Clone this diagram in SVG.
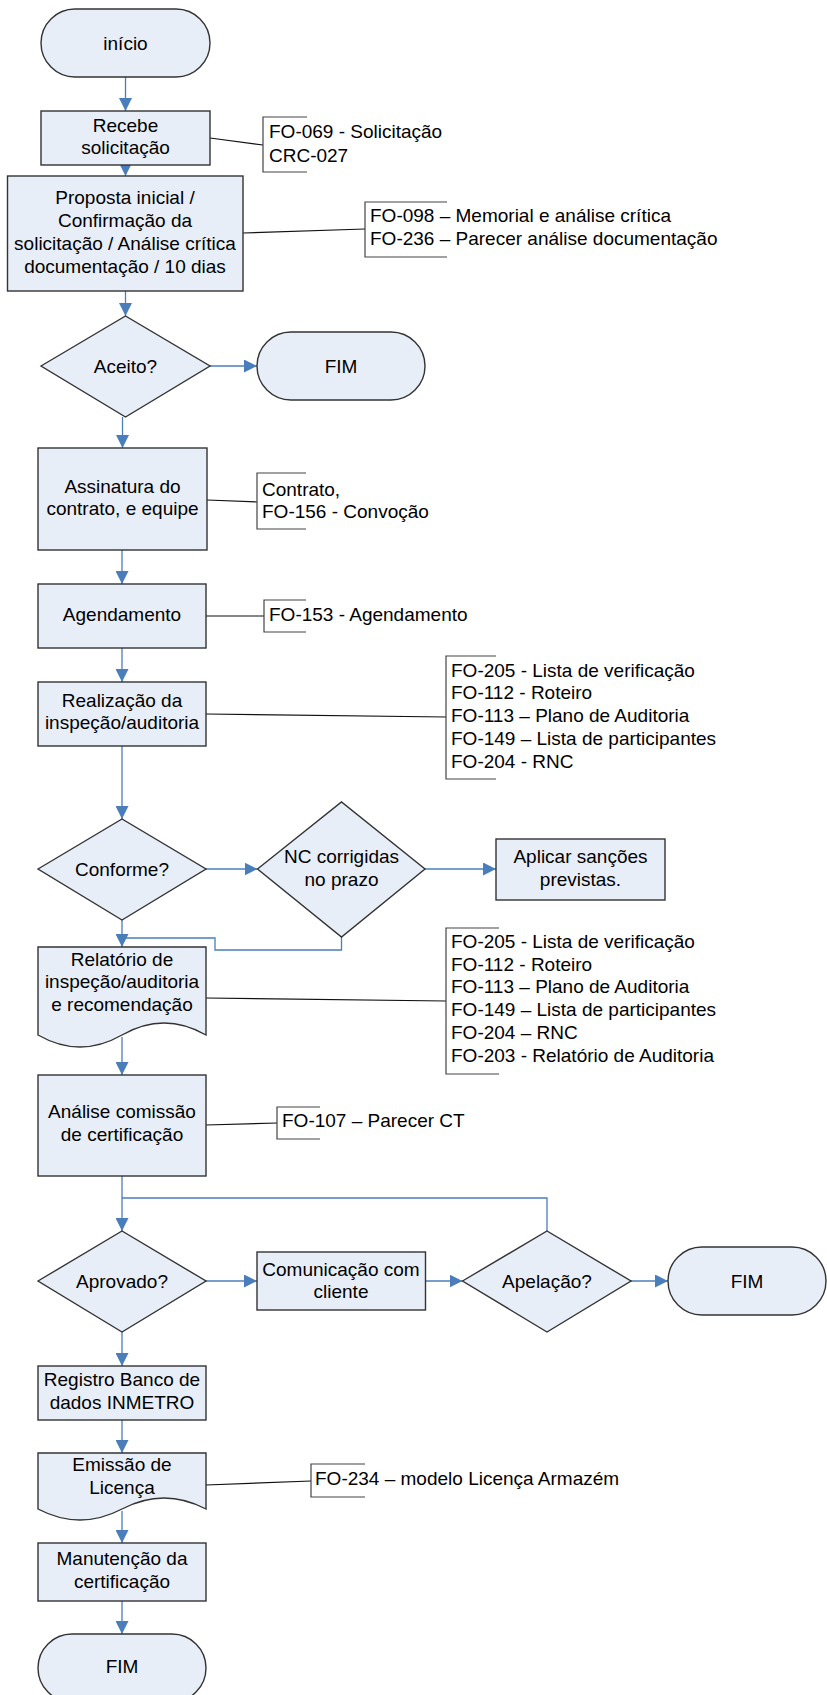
<svg xmlns="http://www.w3.org/2000/svg" width="827" height="1695" viewBox="0 0 827 1695">
<style>
.s{fill:#e8eef8;stroke:#333;stroke-width:1.4}
.t{font-family:"Liberation Sans",Arial,sans-serif;font-size:19px;fill:#000;text-anchor:middle}
.a{font-family:"Liberation Sans",Arial,sans-serif;font-size:19px;fill:#000}
.c{fill:none;stroke:#4a7ebb;stroke-width:1.3}
.ca{fill:none;stroke:#4a7ebb;stroke-width:1.3;marker-end:url(#ah)}
.n{fill:none;stroke:#111;stroke-width:1.2}
.b{fill:none;stroke:#444;stroke-width:1.2}
</style>
<defs>
<marker id="ah" markerUnits="userSpaceOnUse" markerWidth="13" markerHeight="13" viewBox="0 0 12 12" refX="12" refY="6" orient="auto">
<path d="M0,0 L12,6 L0,12 z" fill="#4a7ebb"/>
</marker>
</defs>
<rect width="827" height="1695" fill="#fff"/>
<g id="connectors">
<path class="ca" d="M125.5,77 V111"/>
<path class="ca" d="M125.5,165 V176"/>
<path class="ca" d="M125.5,291 V316"/>
<path class="ca" d="M210,366 H257"/>
<path class="ca" d="M122.5,417 V448"/>
<path class="ca" d="M122,550 V584"/>
<path class="ca" d="M122,648 V682"/>
<path class="ca" d="M122,746 V819"/>
<path class="ca" d="M206,869 H257.5"/>
<path class="ca" d="M425,869 H496"/>
<path class="ca" d="M122,920 V947"/>
<path class="c" d="M341.5,937 V950 H215 V938 H122"/>
<path class="ca" d="M122,1037 V1075"/>
<path class="ca" d="M122,1176 V1231"/>
<path class="c" d="M547,1231 V1198 H122"/>
<path class="ca" d="M206,1281 H257"/>
<path class="ca" d="M425.5,1281 H462.5"/>
<path class="ca" d="M631,1281 H668"/>
<path class="ca" d="M122,1332 V1366"/>
<path class="ca" d="M122,1420 V1453"/>
<path class="ca" d="M122,1511 V1543"/>
<path class="ca" d="M122,1601 V1634"/>
<path class="n" d="M210,138 L263,145"/>
<path class="n" d="M243,233 L365,229"/>
<path class="n" d="M207,500 L257,502"/>
<path class="n" d="M206,616 L264,616"/>
<path class="n" d="M206,714 L446,717"/>
<path class="n" d="M206,998 L446,1001"/>
<path class="n" d="M206,1125 L277,1123"/>
<path class="n" d="M206,1485 L311,1481"/>
</g>
<g id="inicio"><rect class="s" x="41" y="9" width="169" height="68" rx="34"/><text class="t" x="125.5" y="50">início</text></g>
<g id="recebe"><rect class="s" x="41" y="111" width="169" height="54"/><text class="t" x="125.5" y="132">Recebe</text><text class="t" x="125.5" y="154">solicitação</text></g>
<g id="proposta"><rect class="s" x="7.5" y="176" width="235.5" height="115"/><text class="t" x="125" y="204">Proposta inicial /</text><text class="t" x="125" y="227">Confirmação da</text><text class="t" x="125" y="250">solicitação / Análise crítica</text><text class="t" x="125" y="273">documentação / 10 dias</text></g>
<g id="aceito"><path class="s" d="M41,366 L125.5,316 L210,366 L125.5,417 z"/><text class="t" x="125.5" y="373">Aceito?</text></g>
<g id="fim1"><rect class="s" x="257" y="332" width="168" height="68" rx="34"/><text class="t" x="341" y="373">FIM</text></g>
<g id="assinatura"><rect class="s" x="38" y="448" width="169" height="102"/><text class="t" x="122.5" y="493">Assinatura do</text><text class="t" x="122.5" y="515">contrato, e equipe</text></g>
<g id="agendamento"><rect class="s" x="38" y="584" width="168" height="64"/><text class="t" x="122" y="621">Agendamento</text></g>
<g id="realizacao"><rect class="s" x="38" y="682" width="168" height="64"/><text class="t" x="122" y="707">Realização da</text><text class="t" x="122" y="729">inspeção/auditoria</text></g>
<g id="conforme"><path class="s" d="M38,869 L122,819 L206,869 L122,920 z"/><text class="t" x="122" y="876">Conforme?</text></g>
<g id="nc"><path class="s" d="M257.5,869 L341.5,802 L425,869 L341.5,937 z"/><text class="t" x="341.5" y="863">NC corrigidas</text><text class="t" x="341.5" y="886">no prazo</text></g>
<g id="aplicar"><rect class="s" x="496" y="839" width="169" height="61"/><text class="t" x="580.5" y="863">Aplicar sanções</text><text class="t" x="580.5" y="886">previstas.</text></g>
<g id="relatorio"><path class="s" d="M38,947 H206 V1035 Q164,1011 122,1035 Q80,1059 38,1035 z"/><text class="t" x="122" y="966">Relatório de</text><text class="t" x="122" y="988">inspeção/auditoria</text><text class="t" x="122" y="1011">e recomendação</text></g>
<g id="analise"><rect class="s" x="38" y="1075" width="168" height="101"/><text class="t" x="122" y="1118">Análise comissão</text><text class="t" x="122" y="1141">de certificação</text></g>
<g id="aprovado"><path class="s" d="M38,1281 L122,1231 L206,1281 L122,1332 z"/><text class="t" x="122" y="1288">Aprovado?</text></g>
<g id="comunicacao"><rect class="s" x="257" y="1252" width="168.5" height="58"/><text class="t" x="341" y="1276">Comunicação com</text><text class="t" x="341" y="1298">cliente</text></g>
<g id="apelacao"><path class="s" d="M462.5,1281 L547,1231 L631,1281 L547,1332 z"/><text class="t" x="547" y="1288">Apelação?</text></g>
<g id="fim2"><rect class="s" x="668" y="1247" width="158" height="68" rx="34"/><text class="t" x="747" y="1288">FIM</text></g>
<g id="registro"><rect class="s" x="38" y="1366" width="168" height="54"/><text class="t" x="122" y="1386">Registro Banco de</text><text class="t" x="122" y="1409">dados INMETRO</text></g>
<g id="emissao"><path class="s" d="M38,1453 H206 V1509 Q164,1487 122,1509 Q80,1531 38,1509 z"/><text class="t" x="122" y="1471">Emissão de</text><text class="t" x="122" y="1494">Licença</text></g>
<g id="manutencao"><rect class="s" x="38" y="1543" width="168" height="58"/><text class="t" x="122" y="1565">Manutenção da</text><text class="t" x="122" y="1588">certificação</text></g>
<g id="fim3"><rect class="s" x="38" y="1634" width="168" height="68" rx="34"/><text class="t" x="122" y="1673">FIM</text></g>
<g id="ann1"><path class="b" d="M307,117 H263 V172 H307"/><text class="a" x="269" y="138">FO-069 - Solicitação</text><text class="a" x="269" y="162">CRC-027</text></g>
<g id="ann2"><path class="b" d="M447,202 H365 V257 H447"/><text class="a" x="370" y="222">FO-098 – Memorial e análise crítica</text><text class="a" x="370" y="245">FO-236 – Parecer análise documentação</text></g>
<g id="ann3"><path class="b" d="M306,473 H257 V529 H306"/><text class="a" x="262" y="496">Contrato,</text><text class="a" x="262" y="518">FO-156 - Convoção</text></g>
<g id="ann4"><path class="b" d="M306,600 H264 V632 H306"/><text class="a" x="269" y="621">FO-153 - Agendamento</text></g>
<g id="ann5"><path class="b" d="M496,656 H446 V779 H496"/><text class="a" x="451" y="677">FO-205 - Lista de verificação</text><text class="a" x="451" y="699">FO-112 - Roteiro</text><text class="a" x="451" y="722">FO-113 – Plano de Auditoria</text><text class="a" x="451" y="745">FO-149 – Lista de participantes</text><text class="a" x="451" y="768">FO-204 - RNC</text></g>
<g id="ann6"><path class="b" d="M499,928 H446 V1074 H499"/><text class="a" x="451" y="948">FO-205 - Lista de verificação</text><text class="a" x="451" y="971">FO-112 - Roteiro</text><text class="a" x="451" y="993">FO-113 – Plano de Auditoria</text><text class="a" x="451" y="1016">FO-149 – Lista de participantes</text><text class="a" x="451" y="1039">FO-204 – RNC</text><text class="a" x="451" y="1062">FO-203 - Relatório de Auditoria</text></g>
<g id="ann7"><path class="b" d="M320,1107 H277 V1139 H320"/><text class="a" x="282" y="1127">FO-107 – Parecer CT</text></g>
<g id="ann8"><path class="b" d="M365,1464 H311 V1497 H365"/><text class="a" x="315" y="1485">FO-234 – modelo Licença Armazém</text></g>
</svg>
